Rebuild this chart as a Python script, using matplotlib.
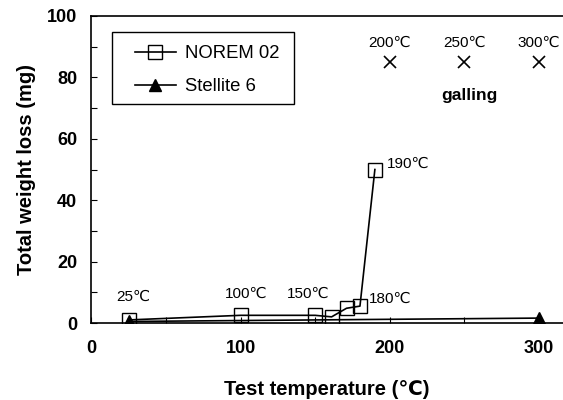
import numpy as np
from matplotlib import pyplot as plt
from matplotlib.patches import Rectangle
from matplotlib.ticker import MultipleLocator

plt.rcParams['font.family'] = ['Liberation Sans', 'DejaVu Sans']

# NOREM 02 data
norem_temp = [25, 100, 150, 161, 171, 180, 190]
norem_loss = [1.0, 2.5, 2.5, 2.0, 4.8, 5.5, 50.0]

# Stellite 6 data
stell_temp = [25, 300]
stell_loss = [0.5, 1.6]

# galling points
gall_temp = [200, 250, 300]
gall_loss = [85, 85, 85]
gall_labels = ['200℃', '250℃', '300℃']

# point labels for NOREM 02
pt_labels = ['25℃', '100℃', '150℃', '180℃', '190℃']
pt_x = [28, 104, 145, 186, 198]
pt_y = [8.5, 9.5, 9.5, 8, 52]

fig = plt.figure(figsize=(5.63, 4.0), dpi=100)
ax = fig.add_axes([0.162, 0.1925, 0.838, 0.7675])

ax.plot(stell_temp, stell_loss, '-^', color='k', lw=1.2, ms=9,
        mfc='k', label='Stellite 6', zorder=2)
ax.plot(norem_temp, norem_loss, '-s', color='k', lw=1.2, ms=10,
        mfc='none', mew=1.0, label='NOREM 02', zorder=3)
ax.plot(gall_temp, gall_loss, 'x', color='k', ms=9, mew=1.2)

for t, y, s in zip(gall_temp, gall_loss, gall_labels):
    ax.text(t, y + 4, s, ha='center', va='bottom', fontsize=11)
ax.text(253, 74, 'galling', ha='center', va='center', fontsize=12.5,
        fontweight='bold')

aligns = ['center', 'center', 'center', 'left', 'left']
for s, x, y, a in zip(pt_labels, pt_x, pt_y, aligns):
    ax.text(x, y, s, ha=a, va='center', fontsize=11)

ax.set_xlim(0, 316)
ax.set_ylim(0, 100)
ax.xaxis.set_major_locator(MultipleLocator(100))
ax.xaxis.set_minor_locator(MultipleLocator(50))
ax.yaxis.set_major_locator(MultipleLocator(20))
ax.yaxis.set_minor_locator(MultipleLocator(10))
ax.tick_params(which='both', direction='in', length=4, width=0.8)
ax.tick_params(axis='x', which='major', labelsize=13, pad=12)
ax.tick_params(axis='y', which='major', labelsize=13, pad=10)
for lab in ax.get_xticklabels() + ax.get_yticklabels():
    lab.set_fontweight('bold')
ax.spines['right'].set_visible(False)
for sp in ['left', 'top', 'bottom']:
    ax.spines[sp].set_linewidth(1.2)

ax.set_xlabel('Test temperature (℃)', fontsize=14.5, fontweight='bold',
              labelpad=17)
ax.set_ylabel('Total weight loss (mg)', fontsize=14.5, fontweight='bold',
              labelpad=8)

# legend box drawn by hand, legend itself without frame
ax.add_patch(Rectangle((0.0445, 0.713), 0.3855, 0.235, transform=ax.transAxes,
                       fill=False, edgecolor='k', lw=1.0, zorder=4))
handles, labels = ax.get_legend_handles_labels()
leg = ax.legend([handles[1], handles[0]], [labels[1], labels[0]],
                loc='center left', bbox_to_anchor=(0.093, 0.823),
                borderaxespad=0, borderpad=0, fontsize=13.3, frameon=False,
                handlelength=2.2, handletextpad=0.5, labelspacing=0.85)

plt.savefig('out.png', dpi=100, facecolor='w')
